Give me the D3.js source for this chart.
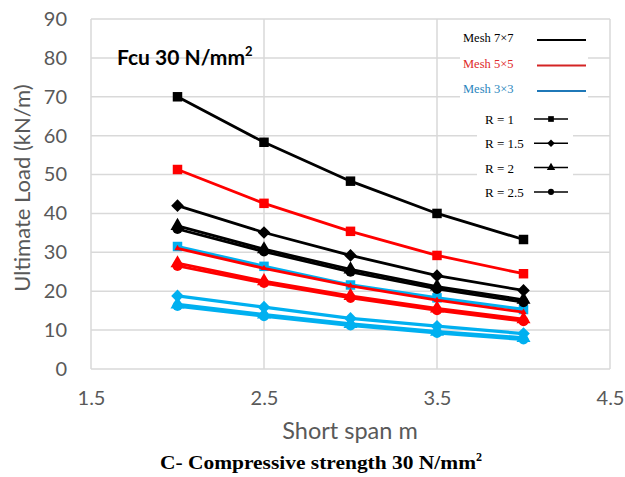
<!DOCTYPE html>
<html><head><meta charset="utf-8">
<script src="https://cdn.jsdelivr.net/npm/d3@7"></script>
<style>html,body{margin:0;padding:0;background:#fff;}svg{display:block;}</style>
</head><body>
<svg id="c" width="625" height="477"></svg>
<script>
const spans = [2, 2.5, 3, 3.5, 4];
const xTicks = [1.5, 2.5, 3.5, 4.5];
const yTicks = [0, 10, 20, 30, 40, 50, 60, 70, 80, 90];
const meshes = ["Mesh 7×7", "Mesh 5×5", "Mesh 3×3"];
const ratios = ["R = 1", "R = 1.5", "R = 2", "R = 2.5"];
// values per mesh, per ratio (R=1, 1.5, 2, 2.5), at spans 2..4
const mesh7 = [
  [70, 58.3, 48.3, 40, 33.3],
  [42, 35.1, 29.2, 24, 20.2],
  [36.8, 30.8, 25.6, 21.2, 17.8],
  [36, 30.2, 25, 20.6, 17.2]
];
const mesh5 = [
  [51.3, 42.6, 35.4, 29.2, 24.5],
  [31, 25.9, 21.4, 17.7, 14.6],
  [27.2, 22.6, 18.8, 15.6, 12.8],
  [26.5, 22.1, 18.3, 15.1, 12.3]
];
const mesh3 = [
  [31.5, 26.4, 21.6, 18.3, 15.3],
  [18.8, 15.9, 13, 11, 9.1],
  [16.6, 14, 11.6, 9.6, 8],
  [16.2, 13.6, 11.2, 9.3, 7.6]
];
const meshColors = ["#000000", "#ff0000", "#00b0f0"];
const legendTextColors = ["#000000", "#e02828", "#2a86bd"];
const legendLineColors = ["#000000", "#d42424", "#1f78b8"];

const svg = d3.select("#c");
const x = d3.scaleLinear().domain([1.5, 4.5]).range([91, 610]);
const y = d3.scaleLinear().domain([0, 90]).range([369, 19]);
const grid = "#d9d9d9";
const tickFont = "Lato, 'Open Sans', sans-serif";

// gridlines
svg.append("g").selectAll("line").data(yTicks).join("line")
  .attr("x1", x(1.5)).attr("x2", x(4.5))
  .attr("y1", d => y(d)).attr("y2", d => y(d))
  .attr("stroke", grid).attr("stroke-width", 1.5);
svg.append("g").selectAll("line").data(xTicks).join("line")
  .attr("y1", y(0)).attr("y2", y(90))
  .attr("x1", d => x(d)).attr("x2", d => x(d))
  .attr("stroke", grid).attr("stroke-width", 1.5);

// axes via d3 (text only)
const yAxis = d3.axisLeft(y).tickValues(yTicks).tickSize(0).tickPadding(24).tickFormat(d3.format("d"));
const gy = svg.append("g").attr("transform", `translate(${x(1.5)},0)`).call(yAxis);
gy.select(".domain").remove();
gy.selectAll("text").attr("font-family", tickFont).attr("font-size", 20).attr("fill", "#595959");

const xAxis = d3.axisBottom(x).tickValues(xTicks).tickSize(0).tickPadding(22).tickFormat(d3.format(".1f"));
const gx = svg.append("g").attr("transform", `translate(0,${y(0)})`).call(xAxis);
gx.select(".domain").remove();
gx.selectAll("text").attr("font-family", tickFont).attr("font-size", 20).attr("fill", "#595959");

// axis titles
svg.append("text").attr("x", 350).attr("y", 439).attr("text-anchor", "middle")
  .attr("font-family", tickFont).attr("font-size", 23.5).attr("fill", "#595959").text("Short span m");
svg.append("text").attr("transform", "translate(30,188) rotate(-90)").attr("text-anchor", "middle")
  .attr("font-family", tickFont).attr("font-size", 22).attr("fill", "#595959").text("Ultimate Load (kN/m)");

// caption
const cap = svg.append("text").attr("x", 160).attr("y", 469)
  .attr("font-family", "'Liberation Serif', 'Times New Roman', serif").attr("font-weight", "bold")
  .attr("font-size", 19).attr("fill", "#000");
cap.append("tspan").attr("textLength", 316).attr("lengthAdjust", "spacingAndGlyphs")
  .text("C- Compressive strength 30 N/mm");
cap.append("tspan").attr("font-size", 12).attr("dy", -8).text("2");

// inner title
const ttl = svg.append("text").attr("x", 117).attr("y", 65)
  .attr("font-family", tickFont).attr("font-weight", "bold").attr("font-size", 21).attr("fill", "#000");
ttl.append("tspan").text("Fcu 30 N/mm");
ttl.append("tspan").attr("font-size", 13).attr("dy", -9).text("2");

// markers
const symTypes = [d3.symbolSquare, d3.symbolSquare, d3.symbolTriangle, d3.symbolCircle];
const symSizes = [90, 80, 85, 80];
const symRot = [0, 45, 0, 0];
function marker(g, r, cx, cy, color, scale) {
  g.append("path")
    .attr("d", d3.symbol().type(symTypes[r]).size(symSizes[r] * scale * scale)())
    .attr("transform", `translate(${cx},${cy}) rotate(${symRot[r]})`)
    .attr("fill", color);
}

const line = d3.line().x((d, i) => x(spans[i])).y(d => y(d));
const all = [mesh7, mesh5, mesh3];
const widths = [2.8, 2.8, 3.3];
const order = [2, 1, 0]; // draw blue, then red, then black
const plot = svg.append("g");
order.forEach(m => {
  all[m].forEach((vals, r) => {
    const g = plot.append("g");
    g.append("path").attr("d", line(vals)).attr("fill", "none")
      .attr("stroke", meshColors[m]).attr("stroke-width", widths[m]).attr("stroke-linejoin", "round");
    const sc = (m === 1 && r === 1) ? 0.45 : 1;
    const rr = (m === 1 && r === 1) ? 2 : r;
    vals.forEach((v, i) => marker(g, rr, x(spans[i]), y(v), meshColors[m], sc));
  });
});

// legend box 1 (mesh)
const lg = svg.append("g");
lg.append("rect").attr("x", 460).attr("y", 22).attr("width", 128).attr("height", 82).attr("fill", "#fff");
meshes.forEach((t, i) => {
  const yy = 38 + i * 25.5;
  lg.append("text").attr("x", 463).attr("y", yy + 4).attr("font-family", "'Liberation Serif', serif")
    .attr("font-size", 12.5).attr("fill", legendTextColors[i]).text(t);
  lg.append("line").attr("x1", 537).attr("x2", 586).attr("y1", yy + 2).attr("y2", yy + 2)
    .attr("stroke", legendLineColors[i]).attr("stroke-width", 2);
});
// legend box 2 (ratio)
lg.append("rect").attr("x", 477).attr("y", 104).attr("width", 96).attr("height", 98).attr("fill", "#fff");
ratios.forEach((t, i) => {
  const yy = 119 + i * 24.3;
  lg.append("text").attr("x", 485).attr("y", yy + 5).attr("font-family", "'Liberation Serif', serif")
    .attr("font-size", 13).attr("fill", "#000").text(t);
  lg.append("line").attr("x1", 534).attr("x2", 568).attr("y1", yy).attr("y2", yy)
    .attr("stroke", "#000").attr("stroke-width", 1.5);
  marker(lg, i, 551, yy, "#000", 0.6);
});
</script>
</body></html>
